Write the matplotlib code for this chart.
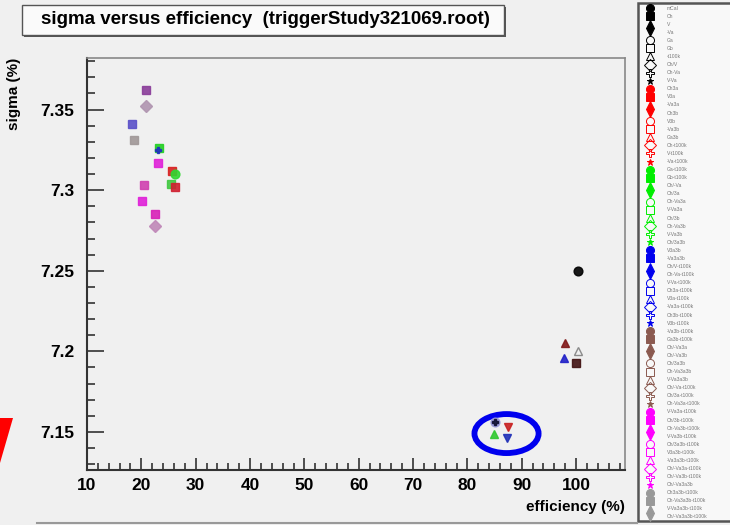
import matplotlib
matplotlib.use("Agg")
import matplotlib.pyplot as plt
from matplotlib.patches import Ellipse, Rectangle, Polygon
from matplotlib.ticker import MultipleLocator, FixedLocator, FixedFormatter

plt.rcParams['font.family'] = ['Liberation Sans', 'DejaVu Sans']

# ---------------- data ----------------
eff = [20.8, 20.8, 18.3, 18.6, 23.3, 23.0, 23.0, 25.6, 26.2, 20.4, 25.4, 26.2, 20.2, 22.5, 22.5,
       100.3, 97.9, 100.3, 97.7, 100.0, 85.0, 85.0, 87.4, 84.9, 87.2]
sigma = [7.362, 7.352, 7.341, 7.331, 7.326, 7.325, 7.317, 7.312, 7.310, 7.303, 7.304, 7.302, 7.293, 7.285, 7.2775,
         7.2496, 7.205, 7.2005, 7.196, 7.193, 7.156, 7.156, 7.153, 7.149, 7.146]
pt_colors = ['#8a3d9a', '#b094b0', '#5a50c8', '#a09898', '#22d022', '#2030c0', '#e020d8', '#d82020', '#30d830',
             '#d040b0', '#40c840', '#d02030', '#e020d8', '#d820b8', '#c088b8',
             '#000000', '#801818', '#808080', '#2020c8', '#401010', '#9898d8', '#101030', '#c82020', '#30c830', '#2030b8']
pt_markers = ['s', 'D', 's', 's', 's', 'P', 's', 's', 'o', 's', 's', 's', 's', 's', 'D',
              'o', '^', '^', '^', 's', 'o', 'P', 'v', '^', 'v']
pt_filled = [1, 1, 1, 1, 1, 1, 1, 1, 1, 1, 1, 1, 1, 1, 1,
             1, 1, 0, 1, 1, 1, 1, 1, 1, 1]

x_ticks = [10, 20, 30, 40, 50, 60, 70, 80, 90, 100]
y_ticks = [7.15, 7.2, 7.25, 7.3, 7.35]
y_ticklabels = ['7.15', '7.2', '7.25', '7.3', '7.35']

title = 'sigma versus efficiency  (triggerStudy321069.root)'
xlabel = 'efficiency (%)'
ylabel = 'sigma (%)'

legend_colors = ['#000000'] * 10 + ['#ff0000'] * 10 + ['#00ee00'] * 10 + ['#0000ee'] * 10 + \
                ['#8b5a50'] * 10 + ['#ff00ff'] * 10 + ['#999999'] * 4
legend_markers = ['o', 's', '^', 'v', 'o', 's', '^', 'D', 'P', '*'] * 6 + ['o', 's', '^', 'v']
legend_filled = [1, 1, 1, 1, 0, 0, 0, 0, 0, 1] * 6 + [1, 1, 1, 1]
legend_labels = ['mCal', 'Ch', 'V', '-Va', 'Ga', 'Gb', '-t100k', 'Ch/V', 'Ch-Va', 'V-Va',
                 'Ch3a', 'V3a', '-Va3a', 'Ch3b', 'V3b', '-Va3b', 'Ga3b', 'Ch-t100k', 'V-t100k', '-Va-t100k',
                 'Ga-t100k', 'Gb-t100k', 'Ch/-Va', 'Ch/3a', 'Ch-Va3a', 'V-Va3a', 'Ch/3b', 'Ch-Va3b', 'V-Va3b', 'Ch/3a3b',
                 'V3a3b', '-Va3a3b', 'Ch/V-t100k', 'Ch-Va-t100k', 'V-Va-t100k', 'Ch3a-t100k', 'V3a-t100k',
                 '-Va3a-t100k', 'Ch3b-t100k', 'V3b-t100k',
                 '-Va3b-t100k', 'Ga3b-t100k', 'Ch/-Va3a', 'Ch/-Va3b', 'Ch/3a3b', 'Ch-Va3a3b', 'V-Va3a3b',
                 'Ch/-Va-t100k', 'Ch/3a-t100k', 'Ch-Va3a-t100k',
                 'V-Va3a-t100k', 'Ch/3b-t100k', 'Ch-Va3b-t100k', 'V-Va3b-t100k', 'Ch/3a3b-t100k', 'V3a3b-t100k',
                 '-Va3a3b-t100k', 'Ch/-Va3a-t100k', 'Ch/-Va3b-t100k', 'Ch/-Va3a3b',
                 'Ch3a3b-t100k', 'Ch-Va3a3b-t100k', 'V-Va3a3b-t100k', 'Ch/-Va3a3b-t100k']

# ---------------- figure ----------------
W, H = 730, 525
BG = '#f0f0f0'
fig = plt.figure(figsize=(W / 100, H / 100), dpi=100, facecolor=BG)

def px_axes(x0, y0, x1, y1):
    return [x0 / W, 1 - y1 / H, (x1 - x0) / W, (y1 - y0) / H]

ax = fig.add_axes(px_axes(87, 58, 625, 470))
ax.set_facecolor(BG)
for i in range(len(eff)):
    fc = pt_colors[i] if pt_filled[i] else 'none'
    ms = 6.3 if pt_markers[i] != 'P' else 5
    ax.plot(eff[i], sigma[i], linestyle='none', marker=pt_markers[i], markersize=ms,
            markerfacecolor=fc, markeredgecolor=pt_colors[i], markeredgewidth=1.0, alpha=0.9)

ax.add_patch(Ellipse((87.2, 7.149), 11.8, 0.0242, fill=False, edgecolor='#0000ee', linewidth=4.2))

ax.set_xlim(10, 109)
ax.set_ylim(7.1264, 7.382)
ax.xaxis.set_major_locator(FixedLocator(x_ticks))
ax.xaxis.set_minor_locator(MultipleLocator(2))
ax.yaxis.set_major_locator(FixedLocator(y_ticks))
ax.yaxis.set_major_formatter(FixedFormatter(y_ticklabels))
ax.yaxis.set_minor_locator(MultipleLocator(0.01))
ax.tick_params(which='both', direction='in', top=False, right=False, color='#333333', width=1.2)
ax.tick_params(axis='x', which='major', length=9, labelsize=12.5, pad=6)
ax.tick_params(axis='x', which='minor', length=5)
ax.tick_params(axis='y', which='major', length=12, labelsize=12.5, pad=9)
ax.tick_params(axis='y', which='minor', length=6)
for lab in ax.get_xticklabels() + ax.get_yticklabels():
    lab.set_fontweight('bold')
for side in ['left', 'bottom']:
    ax.spines[side].set_color('#333333')
    ax.spines[side].set_linewidth(1.5)
for side in ['top', 'right']:
    ax.spines[side].set_color('#888888')
    ax.spines[side].set_linewidth(1.2)

fig.text(625 / W, 1 - 507 / H, xlabel, ha='right', va='center', fontsize=11, fontweight='bold')
fig.text(14 / W, 1 - 58 / H, ylabel, ha='center', va='top', rotation=90, fontsize=11, fontweight='bold')

# title box
fig.patches.append(Rectangle((24 / W, 1 - 37 / H), 482 / W, 30 / H, transform=fig.transFigure,
                             facecolor='#555555', edgecolor='none'))
fig.patches.append(Rectangle((22 / W, 1 - 35 / H), 482 / W, 30 / H, transform=fig.transFigure,
                             facecolor='#fafafa', edgecolor='#555555', linewidth=1.0))
fig.text(265 / W, 1 - 20 / H, title, ha='center', va='center', fontsize=13.5, fontweight='bold')

# red wedge at left edge
fig.patches.append(Polygon([(0, 1 - 418 / H), (13 / W, 1 - 418 / H), (0, 1 - 463 / H)],
                           closed=True, transform=fig.transFigure, facecolor='#ff0000', edgecolor='none'))

# bottom line of canvas
fig.add_artist(plt.Line2D([0.05, 637 / W], [1 - 523 / H, 1 - 523 / H], transform=fig.transFigure,
                          color='#999999', linewidth=1.5))

# legend panel
lax = fig.add_axes(px_axes(637, 0, 730, 525))
lax.set_xlim(637, 730)
lax.set_ylim(525, 0)
lax.axis('off')
lax.add_patch(Rectangle((638, 3), 120, 518, facecolor='#f8f8f8', edgecolor='#555555', linewidth=1.8,
                        clip_on=True))
n = len(legend_labels)
step = (517 - 8) / (n - 1)
for i in range(n):
    y = 8 + i * step
    fc = legend_colors[i] if legend_filled[i] else 'none'
    ms = 5.8 if legend_markers[i] != '*' else 4.5
    lax.plot(650, y, linestyle='none', marker=legend_markers[i], markersize=ms,
             markerfacecolor=fc, markeredgecolor=legend_colors[i], markeredgewidth=0.7)
    lax.text(667, y, legend_labels[i], ha='left', va='center', fontsize=3.6, color='#777777')

fig.savefig('out.png', dpi=100, facecolor=BG)
